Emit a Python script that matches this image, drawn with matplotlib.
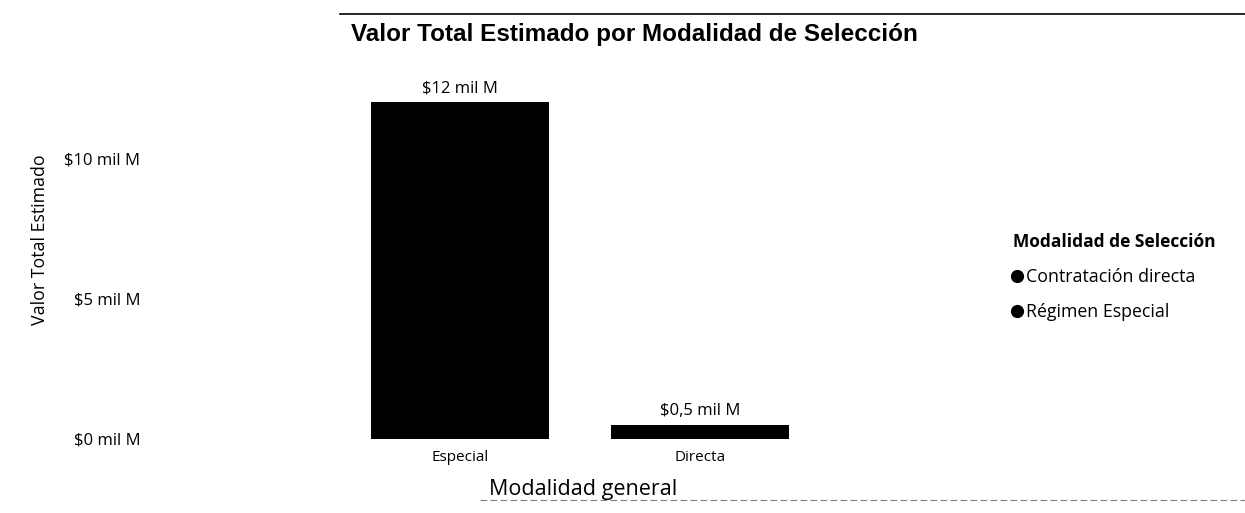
import matplotlib
matplotlib.use("Agg")
import matplotlib.pyplot as plt
from matplotlib.lines import Line2D

# datos
categorias = ["Especial", "Directa"]
valores = [12.0, 0.5]  # miles de millones
etiquetas_valor = ["$12 mil M", "$0,5 mil M"]
modalidades = ["Contratación directa", "Régimen Especial"]
ticks_y = [0, 5, 10]
ticks_y_labels = ["$0 mil M", "$5 mil M", "$10 mil M"]

plt.rcParams['font.family'] = ['Open Sans', 'DejaVu Sans']

W, H = 1245, 513
fig = plt.figure(figsize=(W / 100, H / 100), dpi=100)

# area de trazado (en pixeles de la imagen)
left, right, top, bottom = 150, 940, 74, 439
ax = fig.add_axes([left / W, 1 - bottom / H, (right - left) / W, (bottom - top) / H])

x = list(range(len(categorias)))
ax.bar(x, valores, width=0.74, color="black")
for xi, v, t in zip(x, valores, etiquetas_valor):
    ax.annotate(t, (xi, v), xytext=(0, 4), textcoords="offset points",
                ha="center", va="bottom", fontsize=12, color="black")

ax.set_xlim(-1.2917, 2.0)
ax.set_ylim(0, 13)
ax.set_xticks(x)
ax.set_xticklabels(categorias, fontsize=11)
ax.set_yticks(ticks_y)
ax.set_yticklabels(ticks_y_labels, fontsize=12)
ax.tick_params(axis="both", length=0)
ax.tick_params(axis="y", pad=7)
ax.tick_params(axis="x", pad=8)
for s in ax.spines.values():
    s.set_visible(False)

# titulos
fig.text(634 / W, 1 - 34 / H, "Valor Total Estimado por Modalidad de Selección",
         ha="center", va="center", fontsize=17.5, fontweight="bold",
         family="Liberation Sans")
fig.text(40 / W, 1 - 240 / H, "Valor Total Estimado", rotation=90,
         ha="center", va="center", fontsize=12.8)
fig.text(583 / W, 1 - 490 / H, "Modalidad general", ha="center", va="center",
         fontsize=15.5)

# leyenda
handles = [Line2D([], [], marker="o", linestyle="", color="black", markersize=8.5)
           for _ in modalidades]
leg = fig.legend(handles, modalidades, loc="upper left",
                 bbox_to_anchor=(1013 / W, 1 - 233 / H), frameon=False,
                 title="Modalidad de Selección", alignment="left",
                 fontsize=12.8, handlelength=0.5, handletextpad=0.25,
                 labelspacing=0.95, borderaxespad=0, borderpad=0,
                 title_fontproperties={"weight": "bold", "size": 12.5})

# lineas del escaneo
fig.add_artist(Line2D([340 / W, 1], [1 - 14 / H, 1 - 14 / H], color="black", lw=1.2))
fig.add_artist(Line2D([480 / W, 1], [1 - 500 / H, 1 - 500 / H], color="gray",
                      lw=0.8, linestyle=(0, (6, 3))))

fig.savefig("out.png", dpi=100)
